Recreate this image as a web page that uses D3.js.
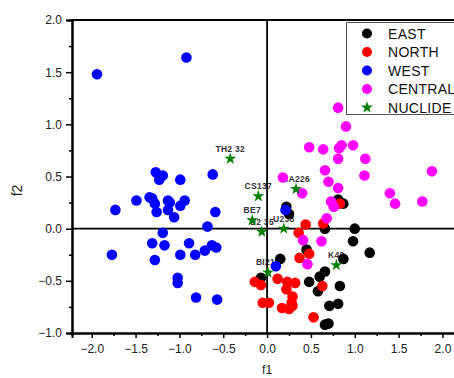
<!DOCTYPE html>
<html>
<head>
<meta charset="utf-8">
<script src="https://cdn.jsdelivr.net/npm/d3@7"></script>
<style>
  body { margin: 0; background: #fff; }
  svg { display: block; font-family: "Liberation Sans", Arial, sans-serif; }
</style>
</head>
<body>
<div id="chart"></div>
<script>
// group scores: [f1, f2]
const east = [
  [0.22, 0.21], [0.25, 0.14], [0.66, 0.00], [0.81, 0.28], [0.87, 0.24], [1.00, 0.00],
  [0.98, -0.12], [1.17, -0.23], [0.45, -0.20], [0.15, -0.29], [-0.07, -0.47], [0.48, -0.51],
  [0.87, -0.29], [0.66, -0.41], [0.60, -0.46], [0.58, -0.60], [0.83, -0.55], [0.71, -0.74],
  [0.81, -0.72], [0.66, -0.92], [0.70, -0.91]
];
const north = [
  [0.44, 0.04], [0.36, -0.04], [0.64, 0.05], [0.83, 0.24], [0.48, -0.24], [0.37, -0.28],
  [-0.14, -0.51], [-0.07, -0.54], [0.12, -0.48], [0.23, -0.51], [0.32, -0.52], [0.22, -0.58],
  [0.29, -0.65], [0.28, -0.71], [-0.05, -0.71], [0.02, -0.71], [0.17, -0.76], [0.25, -0.77],
  [0.29, -0.74], [0.53, -0.85], [0.63, -0.55]
];
const west = [
  [-1.94, 1.48], [-0.92, 1.64], [-1.27, 0.54], [-1.19, 0.51], [-1.23, 0.47], [-0.99, 0.47],
  [-0.62, 0.52], [-1.34, 0.30], [-1.31, 0.29], [-1.49, 0.27], [-1.13, 0.27], [-0.94, 0.27],
  [-1.28, 0.24], [-1.11, 0.25], [-0.99, 0.22], [-1.73, 0.18], [-1.26, 0.16], [-1.13, 0.18],
  [-0.59, 0.16], [-1.06, 0.11], [-0.68, 0.02], [-1.19, -0.04], [-1.31, -0.14], [-1.17, -0.16],
  [-0.89, -0.14], [-0.63, -0.16], [-0.58, -0.18], [-0.71, -0.21], [-1.77, -0.25], [-0.99, -0.25],
  [-0.82, -0.25], [-1.28, -0.30], [-1.02, -0.47], [-1.02, -0.52], [-0.81, -0.66], [-0.57, -0.68],
  [0.21, 0.18], [0.10, -0.36]
];
const central = [
  [0.81, 1.16], [0.90, 0.98], [0.48, 0.78], [0.64, 0.76], [0.85, 0.80], [0.82, 0.77],
  [0.98, 0.80], [0.81, 0.67], [1.12, 0.67], [0.66, 0.56], [1.11, 0.51], [1.88, 0.55],
  [0.18, 0.49], [0.70, 0.45], [0.81, 0.39], [0.40, 0.34], [1.40, 0.34], [1.46, 0.24],
  [1.77, 0.26], [0.73, 0.26], [0.76, 0.21], [0.68, 0.10], [0.41, -0.11], [0.62, -0.12],
  [0.46, -0.34]
];
// nuclide loadings
const nuclideNames = ["TH2 32", "CS137", "BE7", "U2 35", "U238", "RA226", "BI214", "K40"];
const nuclideF1 = [-0.42, -0.10, -0.17, -0.06, 0.19, 0.33, 0.01, 0.79];
const nuclideF2 = [0.67, 0.31, 0.08, -0.03, 0.00, 0.38, -0.42, -0.35];

const legendNames = ["EAST", "NORTH", "WEST", "CENTRAL", "NUCLIDE"];
const groupColors = ["#000000", "#ff0000", "#0000ff", "#ff00ff", "#008000"];
const f1Ticks = [-2, -1.5, -1, -0.5, 0, 0.5, 1, 1.5, 2];
const f2Ticks = [-1, -0.5, 0, 0.5, 1, 1.5, 2];

const width = 454, height = 378;
const plotLeft = 72, plotTop = 20, plotBottom = 333, plotRight = 460;

const svg = d3.select("#chart").append("svg")
  .attr("width", width)
  .attr("height", height);

const x = d3.scaleLinear().domain([-2.225, 2.2]).range([plotLeft, plotRight]);
const y = d3.scaleLinear().domain([-1, 2]).range([plotBottom, plotTop]);
const fmt = d3.format(".1f");

// minor ticks every 0.25
const f1Minor = d3.range(-2.25, 2.3, 0.5).map(v => +v.toFixed(2)).filter(v => v > -2.225);
const f2Minor = d3.range(-0.75, 2, 0.5).map(v => +v.toFixed(2));

function styleAxis(g) {
  g.select(".domain").attr("stroke", "#000").attr("stroke-width", 2);
  g.selectAll(".tick line").attr("stroke", "#000").attr("stroke-width", 1.5);
  g.selectAll(".tick text").attr("fill", "#222").style("font-size", "12px")
    .style("font-family", "'Liberation Sans', Arial, sans-serif");
}

svg.append("g")
  .attr("transform", `translate(0,${plotBottom})`)
  .call(d3.axisBottom(x).tickValues(f1Minor).tickSize(3).tickFormat(""))
  .call(styleAxis);
svg.append("g")
  .attr("transform", `translate(0,${plotBottom})`)
  .call(d3.axisBottom(x).tickValues(f1Ticks).tickSize(5).tickPadding(6).tickFormat(fmt))
  .call(styleAxis);

svg.append("g")
  .attr("transform", `translate(${plotLeft},0)`)
  .call(d3.axisLeft(y).tickValues(f2Minor).tickSize(3).tickFormat(""))
  .call(styleAxis);
svg.append("g")
  .attr("transform", `translate(${plotLeft},0)`)
  .call(d3.axisLeft(y).tickValues(f2Ticks).tickSize(6).tickPadding(4).tickFormat(fmt))
  .call(styleAxis);

// top frame line
svg.append("line")
  .attr("x1", plotLeft).attr("x2", width)
  .attr("y1", plotTop).attr("y2", plotTop)
  .attr("stroke", "#000").attr("stroke-width", 2);

// axis titles
svg.append("text")
  .attr("x", x(0)).attr("y", 374)
  .attr("text-anchor", "middle")
  .style("font-size", "12px")
  .attr("fill", "#222")
  .text("f1");
svg.append("text")
  .attr("transform", `translate(22,${y(0.5) + 14}) rotate(-90)`)
  .attr("text-anchor", "middle")
  .style("font-size", "14px")
  .attr("fill", "#222")
  .text("f2");

// nuclide labels sit under everything else
const nuclides = nuclideNames.map((n, i) => ({ name: n, f1: nuclideF1[i], f2: nuclideF2[i] }));
svg.append("g").selectAll("text")
  .data(nuclides)
  .enter()
  .append("text")
  .attr("x", d => x(d.f1))
  .attr("y", d => y(d.f2) - 7)
  .attr("text-anchor", "middle")
  .style("font-size", "8.5px")
  .style("font-weight", "bold")
  .style("letter-spacing", "0.3px")
  .attr("fill", "#333")
  .text(d => d.name);

// zero lines
svg.append("line")
  .attr("x1", plotLeft).attr("x2", width)
  .attr("y1", y(0)).attr("y2", y(0))
  .attr("stroke", "#000").attr("stroke-width", 1.8);
svg.append("line")
  .attr("x1", x(0)).attr("x2", x(0))
  .attr("y1", plotTop).attr("y2", plotBottom)
  .attr("stroke", "#000").attr("stroke-width", 1.8);

// group scores
const groups = [east, north, west, central];
groups.forEach((pts, i) => {
  svg.append("g").selectAll("circle")
    .data(pts)
    .enter()
    .append("circle")
    .attr("cx", d => x(d[0]))
    .attr("cy", d => y(d[1]))
    .attr("r", 5.3)
    .attr("fill", groupColors[i]);
});

const star = d3.symbol().type(d3.symbolStar).size(45);
svg.append("g").selectAll("path")
  .data(nuclides)
  .enter()
  .append("path")
  .attr("d", star)
  .attr("transform", d => `translate(${x(d.f1)},${y(d.f2)})`)
  .attr("fill", groupColors[4]);

// legend
const legend = svg.append("g");
legend.append("rect")
  .attr("x", 346.5).attr("y", 22.5)
  .attr("width", 120).attr("height", 92)
  .attr("fill", "#fff")
  .attr("stroke", "#555").attr("stroke-width", 1);

const rows = legend.selectAll("g.row")
  .data(legendNames)
  .enter()
  .append("g")
  .attr("class", "row")
  .attr("transform", (d, i) => `translate(367,${33.5 + i * 18.5})`);

rows.each(function (d, i) {
  const g = d3.select(this);
  if (i < 4) {
    g.append("circle").attr("r", 5).attr("fill", groupColors[i]);
  } else {
    g.append("path").attr("d", star).attr("fill", groupColors[i]);
  }
  g.append("text")
    .attr("x", 21).attr("y", 5)
    .style("font-size", "14px")
    .style("letter-spacing", "0.3px")
    .attr("fill", "#111")
    .text(d);
});
</script>
</body>
</html>
